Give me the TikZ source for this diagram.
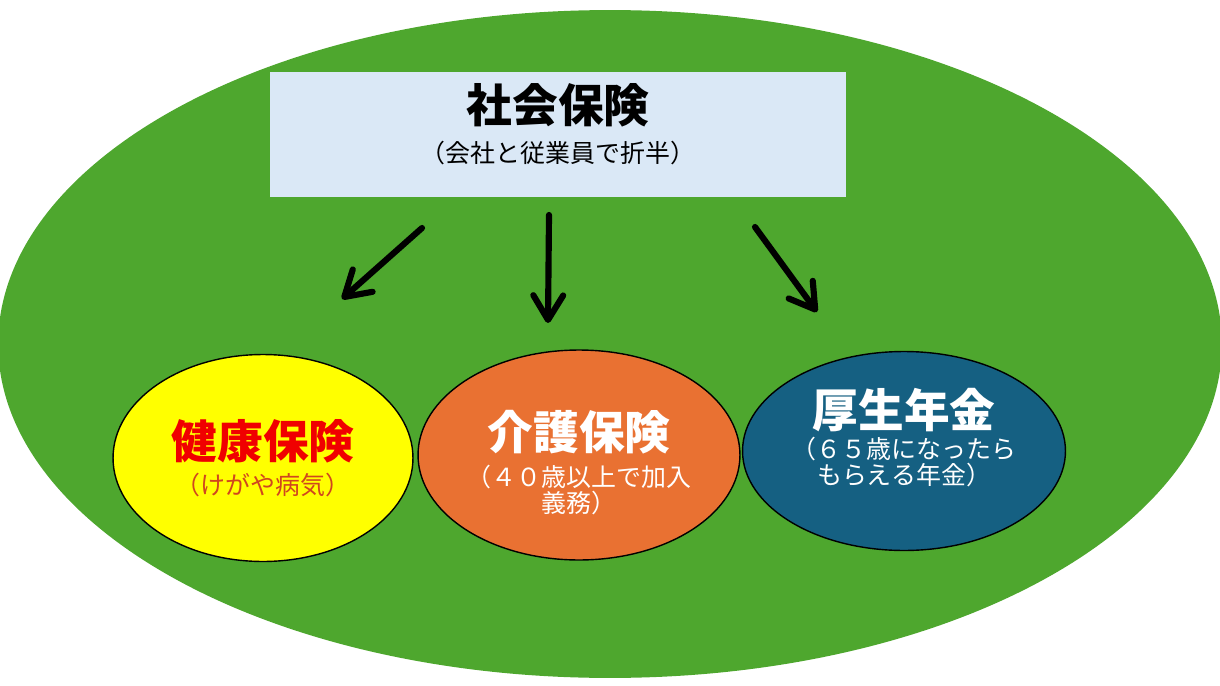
\documentclass[tikz,border=0pt]{standalone}
\usepackage{fontspec}
\setmainfont{Noto Sans CJK JP}
\usepackage{xcolor}
\usetikzlibrary{shapes.geometric}
\usetikzlibrary{arrows.meta,positioning,calc}
\definecolor{FieldGreen}{HTML}{4EA72E}
\definecolor{ShakaiBackground}{HTML}{DAE8F6}
\definecolor{KenkoYellow}{HTML}{FFFF00}
\definecolor{KenkoRed}{HTML}{F00000}
\definecolor{KenkoSubRed}{HTML}{D0461E}
\definecolor{KaigoOrange}{HTML}{E97132}
\definecolor{NenkinBlue}{HTML}{156082}
\newcommand{\TitleSize}{\fontsize{26pt}{30pt}\selectfont\bfseries}
\newcommand{\SubSize}{\fontsize{14.2pt}{14.7pt}\selectfont}
\tikzstyle{InsuranceOval} =[draw,ellipse,line width=0.8pt,inner sep=0pt,align=center,font=\SubSize]
\tikzstyle{ShakaiBox} =[fill=ShakaiBackground,rectangle,inner sep=0pt,align=center,font=\SubSize,minimum width=11.52cm,minimum height=2.5cm]
\tikzstyle{FlowArrow} =[line width=3.5pt,line cap=round,-{Straight Barb[length=14pt,width=17pt,line cap=round,line join=round]}]

\begin{document}
\begin{tikzpicture}[x=0.02cm,y=-0.02cm]
\useasboundingbox (0,0) rectangle (1220,686);
\fill[FieldGreen] (610,344) ellipse [x radius=12.24cm,y radius=6.68cm];
\node[ShakaiBox,text depth=13pt](Shakai) at (558,134.5){{\TitleSize 社会保険}\\[7pt]（会社と従業員で折半）};
\node[InsuranceOval,fill=KenkoYellow,minimum width=6cm,minimum height=4.14cm,text=KenkoSubRed](Kenko) at (263,458){{\TitleSize\color{KenkoRed}健康保険}\\[5pt]（けがや病気）};
\node[InsuranceOval,fill=KaigoOrange,minimum width=6.44cm,minimum height=4.2cm,text=white](Kaigo) at (579,455){\rule{0pt}{31pt}{\TitleSize 介護保険}\\[5pt]（４０歳以上で加入\\義務）};
\node[InsuranceOval,fill=NenkinBlue,minimum width=6.46cm,minimum height=3.98cm,text=white,text depth=17pt](Nenkin) at (904,451){{\TitleSize 厚生年金}\\[3pt]（６５歳になったら\\もらえる年金）};
% arrows from the box down to the three ovals
\coordinate (Kenko-from) at (422,228);
\coordinate (Kenko-to) at (342,299);
\coordinate (Kaigo-from) at (549,215);
\coordinate (Kaigo-to) at (548,323);
\coordinate (Nenkin-from) at (755,227);
\coordinate (Nenkin-to) at (817,312);
\draw[FlowArrow] (Kenko-from) -- (Kenko-to);
\draw[FlowArrow] (Kaigo-from) -- (Kaigo-to);
\draw[FlowArrow] (Nenkin-from) -- (Nenkin-to);
\end{tikzpicture}
\end{document}
